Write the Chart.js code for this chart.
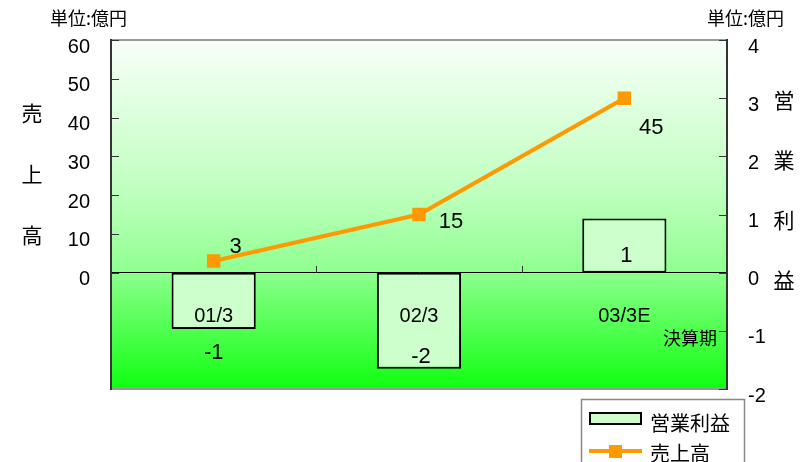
<!DOCTYPE html>
<html lang="ja">
<head>
<meta charset="utf-8">
<title>売上高・営業利益</title>
<script src="https://cdn.jsdelivr.net/npm/chart.js@4.4.1/dist/chart.umd.min.js"></script>
<style>
  html, body { margin: 0; padding: 0; background: #fff; }
  #wrap { position: relative; width: 812px; height: 462px; }
</style>
</head>
<body>
<div id="wrap"><canvas id="chart" width="812" height="462"></canvas></div>
<script>
  // --- data ---
  const periods = ['01/3', '02/3', '03/3E'];
  const sales = [3, 15, 45];                      // 売上高, left axis
  const operatingProfit = [-0.97, -1.65, 0.93];   // 営業利益, right axis
  const salesTicks = [0, 10, 20, 30, 40, 50, 60];
  const profitTicks = [-2, -1, 0, 1, 2, 3, 4];

  const NUM_FONT = '"Liberation Sans", Arial, "Noto Sans CJK JP", sans-serif';
  const JP_FONT = '"Noto Sans CJK JP", "Liberation Sans", sans-serif';
  const ORANGE = '#ff9900';
  const BAR_FILL = '#ccffcc';

  // label nudges, Excel style hand placement
  const salesLabelShift = [[22, -14], [32, 7], [27, 30]];
  const profitLabelShift = [[0, 24], [2, -12], [2, 37]];

  function inwardTicks(ctx, scale, side, values) {
    ctx.beginPath();
    values.forEach((v) => {
      const y = Math.round(scale.getPixelForValue(v)) + 0.5;
      const x = side === 'left' ? scale.right : scale.left;
      ctx.moveTo(x, y);
      ctx.lineTo(side === 'left' ? x + 8 : x - 8, y);
    });
    ctx.stroke();
  }

  const decor = {
    id: 'decor',
    beforeDraw(chart) {
      const { ctx, chartArea: a } = chart;
      ctx.save();
      ctx.fillStyle = '#fff';
      ctx.fillRect(0, 0, chart.width, chart.height);
      const g = ctx.createLinearGradient(0, a.top, 0, a.bottom);
      g.addColorStop(0, '#f8fff8');
      g.addColorStop(0.43, '#c0ffc0');
      g.addColorStop(0.66, '#90ff90');
      g.addColorStop(1, '#10ff10');
      ctx.fillStyle = g;
      ctx.fillRect(a.left, a.top, a.right - a.left, a.bottom - a.top);
      ctx.strokeStyle = '#999';
      ctx.lineWidth = 2;
      ctx.beginPath();
      ctx.moveTo(a.left, a.top);
      ctx.lineTo(a.right, a.top);
      ctx.moveTo(a.left, a.bottom);
      ctx.lineTo(a.right, a.bottom);
      ctx.stroke();
      ctx.restore();
    },
    beforeDatasetsDraw(chart) {
      const { ctx, scales } = chart;
      ctx.save();
      ctx.strokeStyle = '#333';
      ctx.lineWidth = 1;
      inwardTicks(ctx, scales.y, 'left', salesTicks);
      inwardTicks(ctx, scales.y1, 'right', profitTicks);
      // category separators on the zero line
      const zeroY = Math.round(scales.y.getPixelForValue(0));
      ctx.beginPath();
      for (let i = 1; i < periods.length; i++) {
        const x = Math.round((scales.x.getPixelForValue(i - 1) + scales.x.getPixelForValue(i)) / 2) + 0.5;
        ctx.moveTo(x, zeroY);
        ctx.lineTo(x, zeroY - 7);
      }
      ctx.stroke();
      ctx.restore();
    },
    afterDatasetsDraw(chart) {
      const { ctx } = chart;
      ctx.save();
      ctx.fillStyle = '#000';
      ctx.textAlign = 'center';
      ctx.textBaseline = 'middle';
      ctx.font = '22px ' + NUM_FONT;
      chart.getDatasetMeta(1).data.forEach((pt, i) => {
        const [dx, dy] = salesLabelShift[i];
        ctx.fillText(String(sales[i]), pt.x + dx, pt.y + dy);
      });
      chart.getDatasetMeta(0).data.forEach((bar, i) => {
        const [dx, dy] = profitLabelShift[i];
        ctx.fillText(String(Math.round(operatingProfit[i])), bar.x + dx, bar.y + dy);
      });
      ctx.restore();
    },
    afterDraw(chart) {
      const { ctx, chartArea: a } = chart;
      ctx.save();
      ctx.fillStyle = '#000';
      ctx.textBaseline = 'middle';

      ctx.font = '18px ' + JP_FONT;
      ctx.textAlign = 'left';
      ctx.fillText('単位:億円', 50, 18);
      ctx.fillText('単位:億円', 707, 18);

      ctx.font = '21px ' + JP_FONT;
      ctx.textAlign = 'center';
      ['売', '上', '高'].forEach((c, i) => ctx.fillText(c, 32, 113 + i * 61));
      ['営', '業', '利', '益'].forEach((c, i) => ctx.fillText(c, 784, 100 + i * 60));

      ctx.font = '18px ' + JP_FONT;
      ctx.textAlign = 'right';
      ctx.fillText('決算期', a.right - 10, 338);

      // legend
      ctx.strokeStyle = '#888';
      ctx.lineWidth = 1.5;
      ctx.strokeRect(581.5, 399.5, 163, 80);
      ctx.fillStyle = BAR_FILL;
      ctx.fillRect(589, 412, 53, 13);
      ctx.strokeStyle = '#000';
      ctx.lineWidth = 2;
      ctx.strokeRect(590, 413, 51, 11);
      ctx.strokeStyle = ORANGE;
      ctx.lineWidth = 4;
      ctx.beginPath();
      ctx.moveTo(589, 451);
      ctx.lineTo(642, 451);
      ctx.stroke();
      ctx.fillStyle = ORANGE;
      ctx.fillRect(609, 445, 13, 13);
      ctx.fillStyle = '#000';
      ctx.textAlign = 'left';
      ctx.font = '20px ' + JP_FONT;
      ctx.fillText('営業利益', 650, 423);
      ctx.fillText('売上高', 650, 453);
      ctx.restore();
    },
  };

  new Chart(document.getElementById('chart'), {
    data: {
      labels: periods,
      datasets: [
        {
          type: 'bar',
          label: '営業利益',
          data: operatingProfit,
          yAxisID: 'y1',
          backgroundColor: BAR_FILL,
          borderColor: '#000',
          borderWidth: 2,
          borderSkipped: false,
          barPercentage: 0.41,
          categoryPercentage: 1,
          order: 1,
        },
        {
          type: 'line',
          label: '売上高',
          data: sales,
          yAxisID: 'y',
          borderColor: ORANGE,
          backgroundColor: ORANGE,
          borderWidth: 4,
          pointStyle: 'rect',
          pointRadius: 9.5,
          pointBorderWidth: 0,
          tension: 0,
          order: 0,
        },
      ],
    },
    options: {
      responsive: false,
      animation: false,
      layout: { padding: { top: 40, bottom: 73, left: 0, right: 0 } },
      plugins: {
        legend: { display: false },
        tooltip: { enabled: false },
      },
      scales: {
        x: {
          type: 'category',
          offset: true,
          position: { y: 0 },
          grid: { display: false, drawTicks: false },
          border: { display: true, color: '#000', width: 1 },
          ticks: { z: 1, color: '#000', font: { family: NUM_FONT, size: 20 }, padding: 32, maxRotation: 0 },
        },
        y: {
          position: 'left',
          min: -30,
          max: 60,
          afterBuildTicks: (s) => { s.ticks = salesTicks.map((v) => ({ value: v })); },
          afterFit: (s) => { s.width = 111; },
          grid: { display: false, drawTicks: false },
          border: { display: true, color: '#333', width: 2 },
          ticks: { color: '#000', font: { family: NUM_FONT, size: 20 }, padding: 21, labelOffset: 7 },
        },
        y1: {
          position: 'right',
          min: -2,
          max: 4,
          afterBuildTicks: (s) => { s.ticks = profitTicks.map((v) => ({ value: v })); },
          afterFit: (s) => { s.width = 85; },
          grid: { display: false, drawTicks: false },
          border: { display: true, color: '#333', width: 2 },
          ticks: { color: '#000', font: { family: NUM_FONT, size: 20 }, padding: 21, labelOffset: 7 },
        },
      },
    },
    plugins: [decor],
  });
</script>
</body>
</html>
